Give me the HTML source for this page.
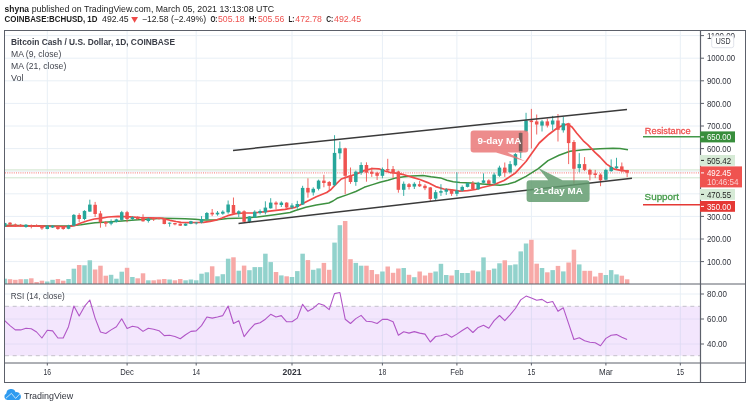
<!DOCTYPE html>
<html><head><meta charset="utf-8"><title>BCHUSD chart</title>
<style>
html,body{margin:0;padding:0;background:#fff;}
body{width:750px;height:408px;overflow:hidden;position:relative;font-family:"Liberation Sans",sans-serif;}
</style></head><body>
<svg width="750" height="408" viewBox="0 0 750 408" style="position:absolute;left:0;top:0;font-family:'Liberation Sans',sans-serif;filter:blur(0.3px)">
<rect width="750" height="408" fill="#fff"/>
<line x1="47.3" y1="31" x2="47.3" y2="363" stroke="#e8eff6" stroke-width="1"/>
<line x1="127.1" y1="31" x2="127.1" y2="363" stroke="#e8eff6" stroke-width="1"/>
<line x1="196.2" y1="31" x2="196.2" y2="363" stroke="#e8eff6" stroke-width="1"/>
<line x1="292.0" y1="31" x2="292.0" y2="363" stroke="#e8eff6" stroke-width="1"/>
<line x1="382.4" y1="31" x2="382.4" y2="363" stroke="#e8eff6" stroke-width="1"/>
<line x1="456.9" y1="31" x2="456.9" y2="363" stroke="#e8eff6" stroke-width="1"/>
<line x1="531.4" y1="31" x2="531.4" y2="363" stroke="#e8eff6" stroke-width="1"/>
<line x1="605.9" y1="31" x2="605.9" y2="363" stroke="#e8eff6" stroke-width="1"/>
<line x1="680.3" y1="31" x2="680.3" y2="363" stroke="#e8eff6" stroke-width="1"/>
<line x1="5" y1="261.6" x2="701" y2="261.6" stroke="#e8eff6" stroke-width="1"/>
<line x1="5" y1="239.0" x2="701" y2="239.0" stroke="#e8eff6" stroke-width="1"/>
<line x1="5" y1="216.4" x2="701" y2="216.4" stroke="#e8eff6" stroke-width="1"/>
<line x1="5" y1="193.8" x2="701" y2="193.8" stroke="#e8eff6" stroke-width="1"/>
<line x1="5" y1="171.2" x2="701" y2="171.2" stroke="#e8eff6" stroke-width="1"/>
<line x1="5" y1="148.6" x2="701" y2="148.6" stroke="#e8eff6" stroke-width="1"/>
<line x1="5" y1="126.0" x2="701" y2="126.0" stroke="#e8eff6" stroke-width="1"/>
<line x1="5" y1="103.4" x2="701" y2="103.4" stroke="#e8eff6" stroke-width="1"/>
<line x1="5" y1="80.8" x2="701" y2="80.8" stroke="#e8eff6" stroke-width="1"/>
<line x1="5" y1="58.2" x2="701" y2="58.2" stroke="#e8eff6" stroke-width="1"/>
<line x1="5" y1="35.6" x2="701" y2="35.6" stroke="#e8eff6" stroke-width="1"/>
<line x1="5" y1="344.0" x2="701" y2="344.0" stroke="#e8eff6" stroke-width="1"/>
<line x1="5" y1="319.0" x2="701" y2="319.0" stroke="#e8eff6" stroke-width="1"/>
<line x1="5" y1="294.0" x2="701" y2="294.0" stroke="#e8eff6" stroke-width="1"/>
<rect x="5" y="306.3" width="696" height="49.4" fill="#f3e6fd"/>
<line x1="5" y1="344.0" x2="701" y2="344.0" stroke="#e4dcf6" stroke-width="1"/>
<line x1="5" y1="319.0" x2="701" y2="319.0" stroke="#e4dcf6" stroke-width="1"/>
<line x1="47.3" y1="306.3" x2="47.3" y2="355.7" stroke="#dfdcf4" stroke-width="1"/>
<line x1="127.1" y1="306.3" x2="127.1" y2="355.7" stroke="#dfdcf4" stroke-width="1"/>
<line x1="196.2" y1="306.3" x2="196.2" y2="355.7" stroke="#dfdcf4" stroke-width="1"/>
<line x1="292.0" y1="306.3" x2="292.0" y2="355.7" stroke="#dfdcf4" stroke-width="1"/>
<line x1="382.4" y1="306.3" x2="382.4" y2="355.7" stroke="#dfdcf4" stroke-width="1"/>
<line x1="456.9" y1="306.3" x2="456.9" y2="355.7" stroke="#dfdcf4" stroke-width="1"/>
<line x1="531.4" y1="306.3" x2="531.4" y2="355.7" stroke="#dfdcf4" stroke-width="1"/>
<line x1="605.9" y1="306.3" x2="605.9" y2="355.7" stroke="#dfdcf4" stroke-width="1"/>
<line x1="680.3" y1="306.3" x2="680.3" y2="355.7" stroke="#dfdcf4" stroke-width="1"/>
<line x1="5" y1="306.3" x2="701" y2="306.3" stroke="#c4c0cb" stroke-width="1" stroke-dasharray="4,3.7"/>
<line x1="5" y1="355.7" x2="701" y2="355.7" stroke="#c4c0cb" stroke-width="1" stroke-dasharray="4,3.7"/>
<rect x="5.00" y="278.7" width="1.95" height="5.3" fill="#92d2cc"/>
<rect x="7.77" y="279.2" width="4.50" height="4.8" fill="#f7a9a7"/>
<rect x="13.09" y="279.8" width="4.50" height="4.2" fill="#f7a9a7"/>
<rect x="18.41" y="279.2" width="4.50" height="4.8" fill="#f7a9a7"/>
<rect x="23.73" y="279.2" width="4.50" height="4.8" fill="#92d2cc"/>
<rect x="29.05" y="278.3" width="4.50" height="5.7" fill="#f7a9a7"/>
<rect x="34.37" y="282.0" width="4.50" height="2.0" fill="#f7a9a7"/>
<rect x="39.69" y="280.7" width="4.50" height="3.3" fill="#f7a9a7"/>
<rect x="45.01" y="281.5" width="4.50" height="2.5" fill="#92d2cc"/>
<rect x="50.33" y="279.8" width="4.50" height="4.2" fill="#92d2cc"/>
<rect x="55.65" y="279.0" width="4.50" height="5.0" fill="#f7a9a7"/>
<rect x="60.97" y="280.7" width="4.50" height="3.3" fill="#f7a9a7"/>
<rect x="66.29" y="279.0" width="4.50" height="5.0" fill="#92d2cc"/>
<rect x="71.61" y="268.7" width="4.50" height="15.3" fill="#92d2cc"/>
<rect x="76.93" y="265.0" width="4.50" height="19.0" fill="#f7a9a7"/>
<rect x="82.25" y="265.3" width="4.50" height="18.7" fill="#92d2cc"/>
<rect x="87.57" y="260.3" width="4.50" height="23.7" fill="#92d2cc"/>
<rect x="92.89" y="269.5" width="4.50" height="14.5" fill="#f7a9a7"/>
<rect x="98.21" y="265.7" width="4.50" height="18.3" fill="#f7a9a7"/>
<rect x="103.53" y="275.7" width="4.50" height="8.3" fill="#f7a9a7"/>
<rect x="108.85" y="274.8" width="4.50" height="9.2" fill="#92d2cc"/>
<rect x="114.17" y="278.7" width="4.50" height="5.3" fill="#92d2cc"/>
<rect x="119.49" y="271.7" width="4.50" height="12.3" fill="#92d2cc"/>
<rect x="124.81" y="267.8" width="4.50" height="16.2" fill="#f7a9a7"/>
<rect x="130.13" y="277.0" width="4.50" height="7.0" fill="#92d2cc"/>
<rect x="135.45" y="278.3" width="4.50" height="5.7" fill="#f7a9a7"/>
<rect x="140.77" y="273.3" width="4.50" height="10.7" fill="#f7a9a7"/>
<rect x="146.09" y="280.3" width="4.50" height="3.7" fill="#92d2cc"/>
<rect x="151.41" y="280.3" width="4.50" height="3.7" fill="#f7a9a7"/>
<rect x="156.73" y="279.5" width="4.50" height="4.5" fill="#f7a9a7"/>
<rect x="162.05" y="279.0" width="4.50" height="5.0" fill="#f7a9a7"/>
<rect x="167.37" y="279.5" width="4.50" height="4.5" fill="#92d2cc"/>
<rect x="172.69" y="280.3" width="4.50" height="3.7" fill="#f7a9a7"/>
<rect x="178.01" y="279.0" width="4.50" height="5.0" fill="#f7a9a7"/>
<rect x="183.33" y="280.3" width="4.50" height="3.7" fill="#92d2cc"/>
<rect x="188.65" y="279.5" width="4.50" height="4.5" fill="#92d2cc"/>
<rect x="193.97" y="280.3" width="4.50" height="3.7" fill="#92d2cc"/>
<rect x="199.29" y="273.7" width="4.50" height="10.3" fill="#92d2cc"/>
<rect x="204.61" y="272.3" width="4.50" height="11.7" fill="#92d2cc"/>
<rect x="209.93" y="266.3" width="4.50" height="17.7" fill="#f7a9a7"/>
<rect x="215.25" y="276.3" width="4.50" height="7.7" fill="#92d2cc"/>
<rect x="220.57" y="274.2" width="4.50" height="9.8" fill="#92d2cc"/>
<rect x="225.89" y="258.7" width="4.50" height="25.3" fill="#92d2cc"/>
<rect x="231.21" y="257.3" width="4.50" height="26.7" fill="#f7a9a7"/>
<rect x="236.53" y="270.7" width="4.50" height="13.3" fill="#92d2cc"/>
<rect x="241.85" y="265.6" width="4.50" height="18.4" fill="#f7a9a7"/>
<rect x="247.17" y="270.2" width="4.50" height="13.8" fill="#92d2cc"/>
<rect x="252.49" y="267.1" width="4.50" height="16.9" fill="#92d2cc"/>
<rect x="257.81" y="267.1" width="4.50" height="16.9" fill="#92d2cc"/>
<rect x="263.13" y="253.7" width="4.50" height="30.3" fill="#92d2cc"/>
<rect x="268.45" y="262.1" width="4.50" height="21.9" fill="#92d2cc"/>
<rect x="273.77" y="272.0" width="4.50" height="12.0" fill="#f7a9a7"/>
<rect x="279.09" y="275.4" width="4.50" height="8.6" fill="#92d2cc"/>
<rect x="284.41" y="276.3" width="4.50" height="7.7" fill="#f7a9a7"/>
<rect x="289.73" y="277.0" width="4.50" height="7.0" fill="#92d2cc"/>
<rect x="295.05" y="271.1" width="4.50" height="12.9" fill="#92d2cc"/>
<rect x="300.37" y="253.7" width="4.50" height="30.3" fill="#92d2cc"/>
<rect x="305.69" y="260.1" width="4.50" height="23.9" fill="#f7a9a7"/>
<rect x="311.01" y="269.8" width="4.50" height="14.2" fill="#92d2cc"/>
<rect x="316.33" y="268.4" width="4.50" height="15.6" fill="#92d2cc"/>
<rect x="321.65" y="262.9" width="4.50" height="21.1" fill="#f7a9a7"/>
<rect x="326.97" y="269.8" width="4.50" height="14.2" fill="#f7a9a7"/>
<rect x="332.29" y="242.6" width="4.50" height="41.4" fill="#92d2cc"/>
<rect x="337.61" y="225.2" width="4.50" height="58.8" fill="#92d2cc"/>
<rect x="342.93" y="221.0" width="4.50" height="63.0" fill="#f7a9a7"/>
<rect x="348.25" y="259.2" width="4.50" height="24.8" fill="#f7a9a7"/>
<rect x="353.57" y="262.9" width="4.50" height="21.1" fill="#92d2cc"/>
<rect x="358.89" y="265.7" width="4.50" height="18.3" fill="#92d2cc"/>
<rect x="364.21" y="265.7" width="4.50" height="18.3" fill="#f7a9a7"/>
<rect x="369.53" y="270.0" width="4.50" height="14.0" fill="#f7a9a7"/>
<rect x="374.85" y="274.2" width="4.50" height="9.8" fill="#f7a9a7"/>
<rect x="380.17" y="271.5" width="4.50" height="12.5" fill="#92d2cc"/>
<rect x="385.49" y="266.5" width="4.50" height="17.5" fill="#f7a9a7"/>
<rect x="390.81" y="272.8" width="4.50" height="11.2" fill="#f7a9a7"/>
<rect x="396.13" y="268.5" width="4.50" height="15.5" fill="#f7a9a7"/>
<rect x="401.45" y="268.0" width="4.50" height="16.0" fill="#92d2cc"/>
<rect x="406.77" y="274.8" width="4.50" height="9.2" fill="#f7a9a7"/>
<rect x="412.09" y="277.2" width="4.50" height="6.8" fill="#92d2cc"/>
<rect x="417.41" y="271.5" width="4.50" height="12.5" fill="#f7a9a7"/>
<rect x="422.73" y="275.5" width="4.50" height="8.5" fill="#f7a9a7"/>
<rect x="428.05" y="272.8" width="4.50" height="11.2" fill="#f7a9a7"/>
<rect x="433.37" y="271.5" width="4.50" height="12.5" fill="#92d2cc"/>
<rect x="438.69" y="263.8" width="4.50" height="20.2" fill="#92d2cc"/>
<rect x="444.01" y="275.0" width="4.50" height="9.0" fill="#92d2cc"/>
<rect x="449.33" y="275.5" width="4.50" height="8.5" fill="#f7a9a7"/>
<rect x="454.65" y="270.0" width="4.50" height="14.0" fill="#92d2cc"/>
<rect x="459.97" y="273.0" width="4.50" height="11.0" fill="#92d2cc"/>
<rect x="465.29" y="273.0" width="4.50" height="11.0" fill="#92d2cc"/>
<rect x="470.61" y="270.5" width="4.50" height="13.5" fill="#f7a9a7"/>
<rect x="475.93" y="271.5" width="4.50" height="12.5" fill="#92d2cc"/>
<rect x="481.25" y="257.4" width="4.50" height="26.6" fill="#92d2cc"/>
<rect x="486.57" y="270.1" width="4.50" height="13.9" fill="#f7a9a7"/>
<rect x="491.89" y="268.6" width="4.50" height="15.4" fill="#92d2cc"/>
<rect x="497.21" y="263.3" width="4.50" height="20.7" fill="#92d2cc"/>
<rect x="502.53" y="260.3" width="4.50" height="23.7" fill="#f7a9a7"/>
<rect x="507.85" y="265.2" width="4.50" height="18.8" fill="#92d2cc"/>
<rect x="513.17" y="264.4" width="4.50" height="19.6" fill="#92d2cc"/>
<rect x="518.49" y="251.4" width="4.50" height="32.6" fill="#92d2cc"/>
<rect x="523.81" y="243.5" width="4.50" height="40.5" fill="#92d2cc"/>
<rect x="529.13" y="239.8" width="4.50" height="44.2" fill="#f7a9a7"/>
<rect x="534.45" y="263.7" width="4.50" height="20.3" fill="#f7a9a7"/>
<rect x="539.77" y="268.0" width="4.50" height="16.0" fill="#92d2cc"/>
<rect x="545.09" y="272.3" width="4.50" height="11.7" fill="#f7a9a7"/>
<rect x="550.41" y="270.1" width="4.50" height="13.9" fill="#92d2cc"/>
<rect x="555.73" y="265.9" width="4.50" height="18.1" fill="#f7a9a7"/>
<rect x="561.05" y="271.4" width="4.50" height="12.6" fill="#92d2cc"/>
<rect x="566.37" y="262.5" width="4.50" height="21.5" fill="#f7a9a7"/>
<rect x="571.69" y="249.7" width="4.50" height="34.3" fill="#f7a9a7"/>
<rect x="577.01" y="264.4" width="4.50" height="19.6" fill="#92d2cc"/>
<rect x="582.33" y="270.8" width="4.50" height="13.2" fill="#f7a9a7"/>
<rect x="587.65" y="270.8" width="4.50" height="13.2" fill="#f7a9a7"/>
<rect x="592.97" y="276.5" width="4.50" height="7.5" fill="#f7a9a7"/>
<rect x="598.29" y="272.9" width="4.50" height="11.1" fill="#f7a9a7"/>
<rect x="603.61" y="275.0" width="4.50" height="9.0" fill="#92d2cc"/>
<rect x="608.93" y="270.1" width="4.50" height="13.9" fill="#92d2cc"/>
<rect x="614.25" y="274.4" width="4.50" height="9.6" fill="#92d2cc"/>
<rect x="619.57" y="275.7" width="4.50" height="8.3" fill="#f7a9a7"/>
<rect x="624.89" y="279.3" width="4.50" height="4.7" fill="#f7a9a7"/>
<line x1="5" y1="169.9" x2="701" y2="169.9" stroke="#cfe5cd" stroke-width="1"/>
<line x1="5" y1="177.8" x2="701" y2="177.8" stroke="#cfe5cd" stroke-width="1"/>
<line x1="5" y1="172.9" x2="701" y2="172.9" stroke="#ef5350" stroke-width="1" stroke-dasharray="1,1.2" opacity="0.8"/>
<polyline points="5.0,225.3 30.0,225.7 55.0,226.0 68.0,226.1 80.9,224.8 87.6,223.7 95.0,222.8 108.0,222.0 122.0,221.0 135.0,220.0 150.0,219.0 162.4,218.3 175.0,218.5 185.0,218.8 195.0,219.2 203.5,220.0 210.0,220.1 217.0,219.8 227.7,218.6 236.0,218.2 244.0,218.1 257.4,217.0 270.9,215.3 280.0,214.0 290.0,212.5 295.4,210.5 305.8,207.3 316.3,205.0 328.8,203.0 333.0,201.0 337.0,198.3 347.5,194.6 355.8,191.5 364.2,187.3 372.5,184.6 380.0,182.2 388.0,180.3 396.0,177.9 403.9,176.8 411.8,176.0 423.0,175.5 431.0,176.8 440.5,177.9 446.9,180.3 453.2,181.8 460.0,182.4 471.0,183.0 482.0,183.9 493.0,184.8 500.0,185.2 508.0,184.0 515.0,182.0 526.0,176.3 538.3,168.6 548.0,160.6 559.0,155.3 570.0,151.3 583.5,149.8 600.0,148.7 613.0,148.2 620.0,148.5 628.0,149.7" fill="none" stroke="#3d9140" stroke-width="1.5" stroke-linejoin="round"/>
<polyline points="5.0,226.1 20.0,226.0 40.0,226.2 60.0,226.5 68.0,226.7 75.5,225.3 80.9,223.0 87.6,220.7 94.3,219.0 100.0,218.3 108.0,217.0 118.0,216.3 130.0,216.8 140.0,217.5 150.0,217.8 160.0,218.0 163.7,218.7 170.0,220.3 176.0,221.5 181.0,222.3 188.0,222.6 195.0,222.5 203.5,222.3 210.0,221.3 217.0,219.8 222.0,218.0 227.7,215.7 235.8,213.7 244.0,213.0 253.0,213.0 265.5,211.7 276.0,210.3 285.0,209.3 290.0,208.3 295.4,207.3 300.0,205.0 305.8,201.9 316.3,196.7 326.7,192.5 331.0,189.5 335.0,185.2 341.3,179.0 347.5,176.9 355.8,174.2 364.2,170.6 372.5,168.5 378.8,168.8 385.0,171.0 389.6,172.3 396.0,173.1 403.9,174.7 411.8,177.1 419.8,179.5 427.8,182.6 435.7,186.6 443.7,189.0 451.7,189.8 459.6,191.1 467.6,190.6 475.5,189.5 482.0,187.5 493.0,185.0 504.0,180.5 515.0,173.3 526.0,161.5 532.0,153.0 539.2,143.0 549.0,134.2 556.9,128.3 563.0,125.3 567.6,124.2 572.0,127.0 576.8,133.2 583.3,140.8 587.9,144.8 595.0,152.4 600.0,157.0 606.6,164.1 613.6,168.8 620.6,170.4 627.6,171.1" fill="none" stroke="#ef4a48" stroke-width="1.7" stroke-linejoin="round"/>
<line x1="4.70" y1="222.5" x2="4.70" y2="227.0" stroke="#26a69a" stroke-width="0.9"/>
<rect x="5.00" y="223.0" width="1.45" height="3.7" fill="#26a69a"/>
<line x1="10.02" y1="222.0" x2="10.02" y2="225.5" stroke="#ef5350" stroke-width="0.9"/>
<rect x="8.27" y="222.7" width="3.50" height="1.9" fill="#ef5350"/>
<line x1="15.34" y1="223.5" x2="15.34" y2="227.0" stroke="#ef5350" stroke-width="0.9"/>
<rect x="13.59" y="224.4" width="3.50" height="2.0" fill="#ef5350"/>
<line x1="20.66" y1="224.0" x2="20.66" y2="227.0" stroke="#ef5350" stroke-width="0.9"/>
<rect x="18.91" y="224.8" width="3.50" height="1.4" fill="#ef5350"/>
<line x1="25.98" y1="224.0" x2="25.98" y2="227.8" stroke="#26a69a" stroke-width="0.9"/>
<rect x="24.23" y="224.8" width="3.50" height="2.2" fill="#26a69a"/>
<line x1="31.30" y1="224.5" x2="31.30" y2="228.4" stroke="#ef5350" stroke-width="0.9"/>
<rect x="29.55" y="225.3" width="3.50" height="1.1" fill="#ef5350"/>
<line x1="36.62" y1="224.3" x2="36.62" y2="227.0" stroke="#ef5350" stroke-width="0.9"/>
<rect x="34.87" y="225.0" width="3.50" height="1.4" fill="#ef5350"/>
<line x1="41.94" y1="225.0" x2="41.94" y2="229.8" stroke="#ef5350" stroke-width="0.9"/>
<rect x="40.19" y="225.7" width="3.50" height="2.7" fill="#ef5350"/>
<line x1="47.26" y1="225.0" x2="47.26" y2="229.3" stroke="#26a69a" stroke-width="0.9"/>
<rect x="45.51" y="225.7" width="3.50" height="3.3" fill="#26a69a"/>
<line x1="52.58" y1="225.0" x2="52.58" y2="228.0" stroke="#26a69a" stroke-width="0.9"/>
<rect x="50.83" y="225.7" width="3.50" height="1.8" fill="#26a69a"/>
<line x1="57.90" y1="225.5" x2="57.90" y2="229.8" stroke="#ef5350" stroke-width="0.9"/>
<rect x="56.15" y="226.1" width="3.50" height="2.9" fill="#ef5350"/>
<line x1="63.22" y1="226.3" x2="63.22" y2="229.8" stroke="#ef5350" stroke-width="0.9"/>
<rect x="61.47" y="227.0" width="3.50" height="2.0" fill="#ef5350"/>
<line x1="68.54" y1="224.8" x2="68.54" y2="229.2" stroke="#26a69a" stroke-width="0.9"/>
<rect x="66.79" y="225.3" width="3.50" height="3.5" fill="#26a69a"/>
<line x1="73.86" y1="214.0" x2="73.86" y2="226.0" stroke="#26a69a" stroke-width="0.9"/>
<rect x="72.11" y="214.9" width="3.50" height="10.8" fill="#26a69a"/>
<line x1="79.18" y1="213.2" x2="79.18" y2="222.3" stroke="#ef5350" stroke-width="0.9"/>
<rect x="77.43" y="215.0" width="3.50" height="4.0" fill="#ef5350"/>
<line x1="84.50" y1="210.2" x2="84.50" y2="220.3" stroke="#26a69a" stroke-width="0.9"/>
<rect x="82.75" y="210.9" width="3.50" height="8.1" fill="#26a69a"/>
<line x1="89.82" y1="199.7" x2="89.82" y2="211.8" stroke="#26a69a" stroke-width="0.9"/>
<rect x="88.07" y="204.6" width="3.50" height="7.0" fill="#26a69a"/>
<line x1="95.14" y1="201.9" x2="95.14" y2="217.0" stroke="#ef5350" stroke-width="0.9"/>
<rect x="93.39" y="204.8" width="3.50" height="9.2" fill="#ef5350"/>
<line x1="100.46" y1="210.9" x2="100.46" y2="227.7" stroke="#ef5350" stroke-width="0.9"/>
<rect x="98.71" y="213.4" width="3.50" height="8.9" fill="#ef5350"/>
<line x1="105.78" y1="221.0" x2="105.78" y2="226.7" stroke="#ef5350" stroke-width="0.9"/>
<rect x="104.03" y="222.0" width="3.50" height="1.7" fill="#ef5350"/>
<line x1="111.10" y1="219.4" x2="111.10" y2="225.3" stroke="#26a69a" stroke-width="0.9"/>
<rect x="109.35" y="221.7" width="3.50" height="2.0" fill="#26a69a"/>
<line x1="116.42" y1="218.8" x2="116.42" y2="222.5" stroke="#26a69a" stroke-width="0.9"/>
<rect x="114.67" y="219.4" width="3.50" height="2.6" fill="#26a69a"/>
<line x1="121.74" y1="210.9" x2="121.74" y2="220.7" stroke="#26a69a" stroke-width="0.9"/>
<rect x="119.99" y="212.2" width="3.50" height="7.7" fill="#26a69a"/>
<line x1="127.06" y1="210.9" x2="127.06" y2="222.3" stroke="#ef5350" stroke-width="0.9"/>
<rect x="125.31" y="212.2" width="3.50" height="6.8" fill="#ef5350"/>
<line x1="132.38" y1="216.3" x2="132.38" y2="220.3" stroke="#26a69a" stroke-width="0.9"/>
<rect x="130.63" y="217.2" width="3.50" height="1.8" fill="#26a69a"/>
<line x1="137.70" y1="216.3" x2="137.70" y2="219.7" stroke="#ef5350" stroke-width="0.9"/>
<rect x="135.95" y="217.4" width="3.50" height="1.6" fill="#ef5350"/>
<line x1="143.02" y1="214.3" x2="143.02" y2="221.7" stroke="#ef5350" stroke-width="0.9"/>
<rect x="141.27" y="218.0" width="3.50" height="3.3" fill="#ef5350"/>
<line x1="148.34" y1="217.6" x2="148.34" y2="222.6" stroke="#26a69a" stroke-width="0.9"/>
<rect x="146.59" y="218.6" width="3.50" height="2.4" fill="#26a69a"/>
<line x1="153.66" y1="217.0" x2="153.66" y2="221.0" stroke="#ef5350" stroke-width="0.9"/>
<rect x="151.91" y="218.0" width="3.50" height="1.4" fill="#ef5350"/>
<line x1="158.98" y1="217.5" x2="158.98" y2="219.6" stroke="#ef5350" stroke-width="0.9"/>
<rect x="157.23" y="218.0" width="3.50" height="1.1" fill="#ef5350"/>
<line x1="164.30" y1="218.2" x2="164.30" y2="224.3" stroke="#ef5350" stroke-width="0.9"/>
<rect x="162.55" y="218.6" width="3.50" height="5.4" fill="#ef5350"/>
<line x1="169.62" y1="222.5" x2="169.62" y2="226.7" stroke="#26a69a" stroke-width="0.9"/>
<rect x="167.87" y="222.7" width="3.50" height="1.0" fill="#26a69a"/>
<line x1="174.94" y1="222.8" x2="174.94" y2="225.3" stroke="#ef5350" stroke-width="0.9"/>
<rect x="173.19" y="223.0" width="3.50" height="1.4" fill="#ef5350"/>
<line x1="180.26" y1="223.4" x2="180.26" y2="226.0" stroke="#ef5350" stroke-width="0.9"/>
<rect x="178.51" y="223.7" width="3.50" height="2.0" fill="#ef5350"/>
<line x1="185.58" y1="223.4" x2="185.58" y2="226.0" stroke="#26a69a" stroke-width="0.9"/>
<rect x="183.83" y="223.7" width="3.50" height="2.0" fill="#26a69a"/>
<line x1="190.90" y1="220.8" x2="190.90" y2="224.2" stroke="#26a69a" stroke-width="0.9"/>
<rect x="189.15" y="221.2" width="3.50" height="2.6" fill="#26a69a"/>
<line x1="196.22" y1="222.0" x2="196.22" y2="224.5" stroke="#26a69a" stroke-width="0.9"/>
<rect x="194.47" y="222.5" width="3.50" height="0.9" fill="#26a69a"/>
<line x1="201.54" y1="216.1" x2="201.54" y2="223.4" stroke="#26a69a" stroke-width="0.9"/>
<rect x="199.79" y="219.1" width="3.50" height="3.4" fill="#26a69a"/>
<line x1="206.86" y1="212.0" x2="206.86" y2="220.2" stroke="#26a69a" stroke-width="0.9"/>
<rect x="205.11" y="213.0" width="3.50" height="6.1" fill="#26a69a"/>
<line x1="212.18" y1="209.0" x2="212.18" y2="216.1" stroke="#ef5350" stroke-width="0.9"/>
<rect x="210.43" y="212.7" width="3.50" height="1.7" fill="#ef5350"/>
<line x1="217.50" y1="211.0" x2="217.50" y2="215.7" stroke="#26a69a" stroke-width="0.9"/>
<rect x="215.75" y="212.7" width="3.50" height="1.7" fill="#26a69a"/>
<line x1="222.82" y1="210.3" x2="222.82" y2="214.8" stroke="#26a69a" stroke-width="0.9"/>
<rect x="221.07" y="211.7" width="3.50" height="2.0" fill="#26a69a"/>
<line x1="228.14" y1="200.5" x2="228.14" y2="213.7" stroke="#26a69a" stroke-width="0.9"/>
<rect x="226.39" y="204.5" width="3.50" height="7.8" fill="#26a69a"/>
<line x1="233.46" y1="197.5" x2="233.46" y2="214.4" stroke="#ef5350" stroke-width="0.9"/>
<rect x="231.71" y="205.0" width="3.50" height="8.7" fill="#ef5350"/>
<line x1="238.78" y1="210.3" x2="238.78" y2="217.0" stroke="#26a69a" stroke-width="0.9"/>
<rect x="237.03" y="211.3" width="3.50" height="2.4" fill="#26a69a"/>
<line x1="244.10" y1="210.3" x2="244.10" y2="222.0" stroke="#ef5350" stroke-width="0.9"/>
<rect x="242.35" y="211.3" width="3.50" height="10.5" fill="#ef5350"/>
<line x1="249.42" y1="216.1" x2="249.42" y2="223.1" stroke="#26a69a" stroke-width="0.9"/>
<rect x="247.67" y="216.4" width="3.50" height="5.4" fill="#26a69a"/>
<line x1="254.74" y1="210.3" x2="254.74" y2="217.7" stroke="#26a69a" stroke-width="0.9"/>
<rect x="252.99" y="211.7" width="3.50" height="5.8" fill="#26a69a"/>
<line x1="260.06" y1="209.4" x2="260.06" y2="214.4" stroke="#26a69a" stroke-width="0.9"/>
<rect x="258.31" y="211.0" width="3.50" height="2.0" fill="#26a69a"/>
<line x1="265.38" y1="201.3" x2="265.38" y2="214.4" stroke="#26a69a" stroke-width="0.9"/>
<rect x="263.63" y="207.6" width="3.50" height="4.7" fill="#26a69a"/>
<line x1="270.70" y1="198.2" x2="270.70" y2="208.6" stroke="#26a69a" stroke-width="0.9"/>
<rect x="268.95" y="202.6" width="3.50" height="5.7" fill="#26a69a"/>
<line x1="276.02" y1="201.3" x2="276.02" y2="209.4" stroke="#ef5350" stroke-width="0.9"/>
<rect x="274.27" y="202.6" width="3.50" height="1.9" fill="#ef5350"/>
<line x1="281.34" y1="201.3" x2="281.34" y2="207.0" stroke="#26a69a" stroke-width="0.9"/>
<rect x="279.59" y="202.6" width="3.50" height="2.4" fill="#26a69a"/>
<line x1="286.66" y1="202.2" x2="286.66" y2="208.0" stroke="#ef5350" stroke-width="0.9"/>
<rect x="284.91" y="202.6" width="3.50" height="4.9" fill="#ef5350"/>
<line x1="291.98" y1="203.3" x2="291.98" y2="209.2" stroke="#26a69a" stroke-width="0.9"/>
<rect x="290.23" y="205.4" width="3.50" height="2.1" fill="#26a69a"/>
<line x1="297.30" y1="200.8" x2="297.30" y2="208.8" stroke="#26a69a" stroke-width="0.9"/>
<rect x="295.55" y="204.0" width="3.50" height="3.0" fill="#26a69a"/>
<line x1="302.62" y1="185.8" x2="302.62" y2="205.0" stroke="#26a69a" stroke-width="0.9"/>
<rect x="300.87" y="187.9" width="3.50" height="16.7" fill="#26a69a"/>
<line x1="307.94" y1="178.3" x2="307.94" y2="197.7" stroke="#ef5350" stroke-width="0.9"/>
<rect x="306.19" y="187.9" width="3.50" height="4.6" fill="#ef5350"/>
<line x1="313.26" y1="187.3" x2="313.26" y2="195.6" stroke="#26a69a" stroke-width="0.9"/>
<rect x="311.51" y="188.8" width="3.50" height="3.7" fill="#26a69a"/>
<line x1="318.58" y1="179.6" x2="318.58" y2="190.4" stroke="#26a69a" stroke-width="0.9"/>
<rect x="316.83" y="180.6" width="3.50" height="8.2" fill="#26a69a"/>
<line x1="323.90" y1="174.8" x2="323.90" y2="187.3" stroke="#ef5350" stroke-width="0.9"/>
<rect x="322.15" y="180.6" width="3.50" height="2.4" fill="#ef5350"/>
<line x1="329.22" y1="181.0" x2="329.22" y2="190.4" stroke="#ef5350" stroke-width="0.9"/>
<rect x="327.47" y="182.0" width="3.50" height="3.8" fill="#ef5350"/>
<line x1="334.54" y1="135.2" x2="334.54" y2="186.2" stroke="#26a69a" stroke-width="0.9"/>
<rect x="332.79" y="152.9" width="3.50" height="32.3" fill="#26a69a"/>
<line x1="339.86" y1="141.5" x2="339.86" y2="159.2" stroke="#26a69a" stroke-width="0.9"/>
<rect x="338.11" y="148.3" width="3.50" height="5.0" fill="#26a69a"/>
<line x1="345.18" y1="147.7" x2="345.18" y2="194.2" stroke="#ef5350" stroke-width="0.9"/>
<rect x="343.43" y="148.3" width="3.50" height="27.5" fill="#ef5350"/>
<line x1="350.50" y1="167.5" x2="350.50" y2="183.8" stroke="#ef5350" stroke-width="0.9"/>
<rect x="348.75" y="175.4" width="3.50" height="6.6" fill="#ef5350"/>
<line x1="355.82" y1="170.6" x2="355.82" y2="185.8" stroke="#26a69a" stroke-width="0.9"/>
<rect x="354.07" y="171.7" width="3.50" height="10.3" fill="#26a69a"/>
<line x1="361.14" y1="162.3" x2="361.14" y2="174.8" stroke="#26a69a" stroke-width="0.9"/>
<rect x="359.39" y="165.0" width="3.50" height="7.7" fill="#26a69a"/>
<line x1="366.46" y1="162.3" x2="366.46" y2="181.7" stroke="#ef5350" stroke-width="0.9"/>
<rect x="364.71" y="165.0" width="3.50" height="7.7" fill="#ef5350"/>
<line x1="371.78" y1="167.5" x2="371.78" y2="176.9" stroke="#ef5350" stroke-width="0.9"/>
<rect x="370.03" y="171.7" width="3.50" height="2.1" fill="#ef5350"/>
<line x1="377.10" y1="171.7" x2="377.10" y2="180.0" stroke="#ef5350" stroke-width="0.9"/>
<rect x="375.35" y="172.7" width="3.50" height="3.1" fill="#ef5350"/>
<line x1="382.42" y1="167.5" x2="382.42" y2="178.3" stroke="#26a69a" stroke-width="0.9"/>
<rect x="380.67" y="169.1" width="3.50" height="6.7" fill="#26a69a"/>
<line x1="387.74" y1="158.8" x2="387.74" y2="171.5" stroke="#ef5350" stroke-width="0.9"/>
<rect x="385.99" y="169.1" width="3.50" height="1.3" fill="#ef5350"/>
<line x1="393.06" y1="166.0" x2="393.06" y2="177.9" stroke="#ef5350" stroke-width="0.9"/>
<rect x="391.31" y="169.1" width="3.50" height="4.0" fill="#ef5350"/>
<line x1="398.38" y1="170.7" x2="398.38" y2="192.7" stroke="#ef5350" stroke-width="0.9"/>
<rect x="396.63" y="171.5" width="3.50" height="18.3" fill="#ef5350"/>
<line x1="403.70" y1="181.5" x2="403.70" y2="195.9" stroke="#26a69a" stroke-width="0.9"/>
<rect x="401.95" y="183.8" width="3.50" height="6.0" fill="#26a69a"/>
<line x1="409.02" y1="183.0" x2="409.02" y2="189.5" stroke="#ef5350" stroke-width="0.9"/>
<rect x="407.27" y="184.2" width="3.50" height="2.8" fill="#ef5350"/>
<line x1="414.34" y1="182.2" x2="414.34" y2="189.0" stroke="#26a69a" stroke-width="0.9"/>
<rect x="412.59" y="183.8" width="3.50" height="2.8" fill="#26a69a"/>
<line x1="419.66" y1="181.0" x2="419.66" y2="187.0" stroke="#ef5350" stroke-width="0.9"/>
<rect x="417.91" y="184.2" width="3.50" height="2.1" fill="#ef5350"/>
<line x1="424.98" y1="184.2" x2="424.98" y2="190.1" stroke="#ef5350" stroke-width="0.9"/>
<rect x="423.23" y="185.8" width="3.50" height="2.4" fill="#ef5350"/>
<line x1="430.30" y1="187.0" x2="430.30" y2="201.0" stroke="#ef5350" stroke-width="0.9"/>
<rect x="428.55" y="187.4" width="3.50" height="11.6" fill="#ef5350"/>
<line x1="435.62" y1="190.1" x2="435.62" y2="200.2" stroke="#26a69a" stroke-width="0.9"/>
<rect x="433.87" y="192.2" width="3.50" height="6.4" fill="#26a69a"/>
<line x1="440.94" y1="184.2" x2="440.94" y2="195.9" stroke="#26a69a" stroke-width="0.9"/>
<rect x="439.19" y="191.1" width="3.50" height="1.6" fill="#26a69a"/>
<line x1="446.26" y1="188.2" x2="446.26" y2="194.9" stroke="#26a69a" stroke-width="0.9"/>
<rect x="444.51" y="189.5" width="3.50" height="2.2" fill="#26a69a"/>
<line x1="451.58" y1="189.5" x2="451.58" y2="195.9" stroke="#ef5350" stroke-width="0.9"/>
<rect x="449.83" y="190.1" width="3.50" height="3.7" fill="#ef5350"/>
<line x1="456.90" y1="172.3" x2="456.90" y2="196.2" stroke="#26a69a" stroke-width="0.9"/>
<rect x="455.15" y="190.6" width="3.50" height="3.2" fill="#26a69a"/>
<line x1="462.22" y1="185.4" x2="462.22" y2="191.4" stroke="#26a69a" stroke-width="0.9"/>
<rect x="460.47" y="186.9" width="3.50" height="3.7" fill="#26a69a"/>
<line x1="467.54" y1="182.6" x2="467.54" y2="187.4" stroke="#26a69a" stroke-width="0.9"/>
<rect x="465.79" y="183.1" width="3.50" height="3.8" fill="#26a69a"/>
<line x1="472.86" y1="181.0" x2="472.86" y2="189.8" stroke="#ef5350" stroke-width="0.9"/>
<rect x="471.11" y="183.1" width="3.50" height="5.9" fill="#ef5350"/>
<line x1="478.18" y1="181.8" x2="478.18" y2="189.8" stroke="#26a69a" stroke-width="0.9"/>
<rect x="476.43" y="182.7" width="3.50" height="6.6" fill="#26a69a"/>
<line x1="483.50" y1="173.4" x2="483.50" y2="183.4" stroke="#26a69a" stroke-width="0.9"/>
<rect x="481.75" y="180.4" width="3.50" height="2.4" fill="#26a69a"/>
<line x1="488.82" y1="179.3" x2="488.82" y2="184.4" stroke="#ef5350" stroke-width="0.9"/>
<rect x="487.07" y="180.4" width="3.50" height="3.5" fill="#ef5350"/>
<line x1="494.14" y1="172.7" x2="494.14" y2="184.4" stroke="#26a69a" stroke-width="0.9"/>
<rect x="492.39" y="174.6" width="3.50" height="8.8" fill="#26a69a"/>
<line x1="499.46" y1="165.7" x2="499.46" y2="176.9" stroke="#26a69a" stroke-width="0.9"/>
<rect x="497.71" y="167.6" width="3.50" height="8.2" fill="#26a69a"/>
<line x1="504.78" y1="162.5" x2="504.78" y2="176.9" stroke="#ef5350" stroke-width="0.9"/>
<rect x="503.03" y="167.6" width="3.50" height="5.1" fill="#ef5350"/>
<line x1="510.10" y1="161.1" x2="510.10" y2="173.4" stroke="#26a69a" stroke-width="0.9"/>
<rect x="508.35" y="164.1" width="3.50" height="8.2" fill="#26a69a"/>
<line x1="515.42" y1="153.1" x2="515.42" y2="166.4" stroke="#26a69a" stroke-width="0.9"/>
<rect x="513.67" y="154.1" width="3.50" height="11.2" fill="#26a69a"/>
<line x1="520.74" y1="131.5" x2="520.74" y2="158.3" stroke="#26a69a" stroke-width="0.9"/>
<rect x="518.99" y="132.6" width="3.50" height="19.8" fill="#26a69a"/>
<line x1="526.06" y1="112.8" x2="526.06" y2="132.0" stroke="#26a69a" stroke-width="0.9"/>
<rect x="524.31" y="120.5" width="3.50" height="11.0" fill="#26a69a"/>
<line x1="531.38" y1="108.9" x2="531.38" y2="148.5" stroke="#ef5350" stroke-width="0.9"/>
<rect x="529.63" y="120.5" width="3.50" height="1.6" fill="#ef5350"/>
<line x1="536.70" y1="114.5" x2="536.70" y2="134.5" stroke="#ef5350" stroke-width="0.9"/>
<rect x="534.95" y="121.4" width="3.50" height="3.1" fill="#ef5350"/>
<line x1="542.02" y1="119.8" x2="542.02" y2="131.5" stroke="#26a69a" stroke-width="0.9"/>
<rect x="540.27" y="121.4" width="3.50" height="4.2" fill="#26a69a"/>
<line x1="547.34" y1="118.6" x2="547.34" y2="127.5" stroke="#ef5350" stroke-width="0.9"/>
<rect x="545.59" y="121.4" width="3.50" height="4.2" fill="#ef5350"/>
<line x1="552.66" y1="115.9" x2="552.66" y2="130.3" stroke="#26a69a" stroke-width="0.9"/>
<rect x="550.91" y="120.5" width="3.50" height="4.0" fill="#26a69a"/>
<line x1="557.98" y1="114.0" x2="557.98" y2="141.5" stroke="#ef5350" stroke-width="0.9"/>
<rect x="556.23" y="120.5" width="3.50" height="9.3" fill="#ef5350"/>
<line x1="563.30" y1="116.8" x2="563.30" y2="132.6" stroke="#26a69a" stroke-width="0.9"/>
<rect x="561.55" y="123.3" width="3.50" height="7.0" fill="#26a69a"/>
<line x1="568.62" y1="122.8" x2="568.62" y2="164.1" stroke="#ef5350" stroke-width="0.9"/>
<rect x="566.87" y="123.3" width="3.50" height="19.8" fill="#ef5350"/>
<line x1="573.94" y1="140.1" x2="573.94" y2="183.9" stroke="#ef5350" stroke-width="0.9"/>
<rect x="572.19" y="142.0" width="3.50" height="26.8" fill="#ef5350"/>
<line x1="579.26" y1="153.1" x2="579.26" y2="172.3" stroke="#26a69a" stroke-width="0.9"/>
<rect x="577.51" y="164.1" width="3.50" height="4.0" fill="#26a69a"/>
<line x1="584.58" y1="157.1" x2="584.58" y2="171.1" stroke="#ef5350" stroke-width="0.9"/>
<rect x="582.83" y="164.1" width="3.50" height="5.8" fill="#ef5350"/>
<line x1="589.90" y1="168.8" x2="589.90" y2="180.4" stroke="#ef5350" stroke-width="0.9"/>
<rect x="588.15" y="169.9" width="3.50" height="4.7" fill="#ef5350"/>
<line x1="595.22" y1="169.9" x2="595.22" y2="178.1" stroke="#ef5350" stroke-width="0.9"/>
<rect x="593.47" y="173.4" width="3.50" height="1.6" fill="#ef5350"/>
<line x1="600.54" y1="173.4" x2="600.54" y2="186.2" stroke="#ef5350" stroke-width="0.9"/>
<rect x="598.79" y="174.6" width="3.50" height="5.8" fill="#ef5350"/>
<line x1="605.86" y1="168.8" x2="605.86" y2="180.4" stroke="#26a69a" stroke-width="0.9"/>
<rect x="604.11" y="169.9" width="3.50" height="9.8" fill="#26a69a"/>
<line x1="611.18" y1="159.4" x2="611.18" y2="171.8" stroke="#26a69a" stroke-width="0.9"/>
<rect x="609.43" y="167.1" width="3.50" height="4.0" fill="#26a69a"/>
<line x1="616.50" y1="157.8" x2="616.50" y2="168.8" stroke="#26a69a" stroke-width="0.9"/>
<rect x="614.75" y="166.4" width="3.50" height="1.7" fill="#26a69a"/>
<line x1="621.82" y1="162.5" x2="621.82" y2="172.3" stroke="#ef5350" stroke-width="0.9"/>
<rect x="620.07" y="166.4" width="3.50" height="4.7" fill="#ef5350"/>
<line x1="627.14" y1="169.9" x2="627.14" y2="177.3" stroke="#ef5350" stroke-width="0.9"/>
<rect x="625.39" y="170.0" width="3.50" height="2.8" fill="#ef5350"/>
<line x1="233" y1="150.4" x2="627" y2="109.6" stroke="#3a3a3a" stroke-width="1.5"/>
<line x1="238.5" y1="223.4" x2="632" y2="178.2" stroke="#3a3a3a" stroke-width="1.5"/>
<path d="M473.6,130.6 H525.3 a3,3 0 0 1 3,3 V149.4 a3,3 0 0 1 -3,3 H507.5 L525.7,161.4 L496,152.4 H473.6 a3,3 0 0 1 -3,-3 V133.6 a3,3 0 0 1 3,-3 Z" fill="#e86f6f" fill-opacity="0.8"/>
<rect x="518.8" y="133" width="3.6" height="18" fill="#5e5550" fill-opacity="0.75"/>
<text x="477.6" y="143.9" font-size="8.6" font-weight="bold" fill="#fff" textLength="43.7" lengthAdjust="spacingAndGlyphs">9-day MA</text>
<path d="M529.6,180.2 H548.2 L538.3,168.1 L562.5,180.2 H586.6 a3,3 0 0 1 3,3 V199 a3,3 0 0 1 -3,3 H529.6 a3,3 0 0 1 -3,-3 V183.2 a3,3 0 0 1 3,-3 Z" fill="#639c70" fill-opacity="0.85"/>
<text x="533.4" y="194.4" font-size="8.6" font-weight="bold" fill="#fff" textLength="49.4" lengthAdjust="spacingAndGlyphs">21-day MA</text>
<line x1="643" y1="136.8" x2="701" y2="136.8" stroke="#43984a" stroke-width="1.5"/>
<text x="644.8" y="134.1" font-size="9.5" fill="#ee4f4d" stroke="#ee4f4d" stroke-width="0.3" textLength="45.8" lengthAdjust="spacingAndGlyphs">Resistance</text>
<line x1="643" y1="204.8" x2="701" y2="204.8" stroke="#e53935" stroke-width="1.4"/>
<text x="644.6" y="200.4" font-size="9.9" fill="#449a48" stroke="#449a48" stroke-width="0.3" textLength="34.5" lengthAdjust="spacingAndGlyphs">Support</text>
<polyline points="4.7,320.7 10.0,325.6 15.3,329.9 20.7,329.9 26.0,328.2 31.3,328.8 36.6,332.0 41.9,338.0 47.3,330.3 52.6,330.9 57.9,338.0 63.2,338.0 68.5,326.7 73.9,306.0 79.2,316.0 84.5,306.4 89.8,300.0 95.1,318.1 100.5,332.0 105.8,333.5 111.1,329.9 116.4,326.7 121.7,318.8 127.1,328.4 132.4,326.2 137.7,327.3 143.0,331.4 148.3,328.2 153.7,329.2 159.0,330.7 164.3,335.6 169.6,335.2 174.9,336.5 180.3,338.8 185.6,334.8 190.9,331.4 196.2,330.9 201.5,325.6 206.9,317.0 212.2,318.1 217.5,317.0 222.8,315.6 228.1,306.0 233.5,323.5 238.8,320.7 244.1,336.7 249.4,329.9 254.7,324.1 260.1,322.8 265.4,319.2 270.7,314.3 276.0,317.0 281.3,315.6 286.7,321.8 292.0,321.8 297.3,318.1 302.6,304.3 307.9,311.3 313.3,308.2 318.6,303.6 323.9,305.3 329.2,309.6 334.5,293.6 339.9,292.5 345.2,319.2 350.5,323.5 355.8,318.6 361.1,315.4 366.5,321.3 371.8,321.8 377.1,323.5 382.4,319.4 387.7,319.4 393.1,321.8 398.4,335.2 403.7,331.8 409.0,333.1 414.3,331.6 419.7,333.1 425.0,334.1 430.3,342.0 435.6,336.5 440.9,335.8 446.3,333.9 451.6,337.3 456.9,334.1 462.2,330.5 467.5,327.3 472.9,332.5 478.2,327.4 483.5,325.3 488.8,328.3 494.1,320.6 499.5,315.5 504.8,320.6 510.1,314.8 515.4,308.5 520.7,299.9 526.1,296.1 531.4,298.0 536.7,300.3 542.0,299.4 547.3,302.7 552.7,301.5 558.0,311.3 563.3,307.8 568.6,323.7 573.9,339.5 579.3,337.7 584.6,340.7 589.9,342.3 595.2,342.8 600.5,345.8 605.9,338.4 611.2,335.3 616.5,334.6 621.8,337.2 627.1,339.5" fill="none" stroke="#b156c7" stroke-width="1.1" stroke-linejoin="round"/>
<rect x="4.5" y="30.5" width="741" height="352" fill="none" stroke="#5c606a" stroke-width="1"/>
<line x1="700.5" y1="30.5" x2="700.5" y2="382.5" stroke="#5c606a" stroke-width="1.2"/>
<line x1="4.5" y1="284" x2="745.5" y2="284" stroke="#5c606a" stroke-width="1"/>
<line x1="4.5" y1="363" x2="745.5" y2="363" stroke="#5c606a" stroke-width="1"/>
<line x1="47.3" y1="363" x2="47.3" y2="365.5" stroke="#5c606a" stroke-width="1"/>
<line x1="127.1" y1="363" x2="127.1" y2="365.5" stroke="#5c606a" stroke-width="1"/>
<line x1="196.2" y1="363" x2="196.2" y2="365.5" stroke="#5c606a" stroke-width="1"/>
<line x1="292.0" y1="363" x2="292.0" y2="365.5" stroke="#5c606a" stroke-width="1"/>
<line x1="382.4" y1="363" x2="382.4" y2="365.5" stroke="#5c606a" stroke-width="1"/>
<line x1="456.9" y1="363" x2="456.9" y2="365.5" stroke="#5c606a" stroke-width="1"/>
<line x1="531.4" y1="363" x2="531.4" y2="365.5" stroke="#5c606a" stroke-width="1"/>
<line x1="605.9" y1="363" x2="605.9" y2="365.5" stroke="#5c606a" stroke-width="1"/>
<line x1="680.3" y1="363" x2="680.3" y2="365.5" stroke="#5c606a" stroke-width="1"/>
<line x1="701" y1="35.6" x2="704" y2="35.6" stroke="#5c606a" stroke-width="1"/>
<text x="707" y="38.7" font-size="8.6" fill="#30333c" textLength="28.0" lengthAdjust="spacingAndGlyphs">1100.00</text>
<line x1="701" y1="58.2" x2="704" y2="58.2" stroke="#5c606a" stroke-width="1"/>
<text x="707" y="61.3" font-size="8.6" fill="#30333c" textLength="28.0" lengthAdjust="spacingAndGlyphs">1000.00</text>
<line x1="701" y1="80.8" x2="704" y2="80.8" stroke="#5c606a" stroke-width="1"/>
<text x="707" y="83.9" font-size="8.6" fill="#30333c" textLength="24.0" lengthAdjust="spacingAndGlyphs">900.00</text>
<line x1="701" y1="103.4" x2="704" y2="103.4" stroke="#5c606a" stroke-width="1"/>
<text x="707" y="106.5" font-size="8.6" fill="#30333c" textLength="24.0" lengthAdjust="spacingAndGlyphs">800.00</text>
<line x1="701" y1="126.0" x2="704" y2="126.0" stroke="#5c606a" stroke-width="1"/>
<text x="707" y="129.1" font-size="8.6" fill="#30333c" textLength="24.0" lengthAdjust="spacingAndGlyphs">700.00</text>
<line x1="701" y1="148.6" x2="704" y2="148.6" stroke="#5c606a" stroke-width="1"/>
<text x="707" y="151.7" font-size="8.6" fill="#30333c" textLength="24.0" lengthAdjust="spacingAndGlyphs">600.00</text>
<line x1="701" y1="216.4" x2="704" y2="216.4" stroke="#5c606a" stroke-width="1"/>
<text x="707" y="219.5" font-size="8.6" fill="#30333c" textLength="24.0" lengthAdjust="spacingAndGlyphs">300.00</text>
<line x1="701" y1="239.0" x2="704" y2="239.0" stroke="#5c606a" stroke-width="1"/>
<text x="707" y="242.1" font-size="8.6" fill="#30333c" textLength="24.0" lengthAdjust="spacingAndGlyphs">200.00</text>
<line x1="701" y1="261.6" x2="704" y2="261.6" stroke="#5c606a" stroke-width="1"/>
<text x="707" y="264.7" font-size="8.6" fill="#30333c" textLength="24.0" lengthAdjust="spacingAndGlyphs">100.00</text>
<line x1="701" y1="294.0" x2="704" y2="294.0" stroke="#5c606a" stroke-width="1"/>
<text x="707" y="297.1" font-size="8.6" fill="#30333c" textLength="20.0" lengthAdjust="spacingAndGlyphs">80.00</text>
<line x1="701" y1="319.0" x2="704" y2="319.0" stroke="#5c606a" stroke-width="1"/>
<text x="707" y="322.1" font-size="8.6" fill="#30333c" textLength="20.0" lengthAdjust="spacingAndGlyphs">60.00</text>
<line x1="701" y1="344.0" x2="704" y2="344.0" stroke="#5c606a" stroke-width="1"/>
<text x="707" y="347.1" font-size="8.6" fill="#30333c" textLength="20.0" lengthAdjust="spacingAndGlyphs">40.00</text>
<rect x="711.7" y="35.9" width="22" height="11.8" rx="2" fill="#fff" stroke="#e0e3eb" stroke-width="1"/>
<text x="715.8" y="44.1" font-size="8.2" fill="#30333c" textLength="14.8" lengthAdjust="spacingAndGlyphs">USD</text>
<rect x="700" y="131.4" width="35.0" height="11.0" fill="#388e3c"/>
<line x1="701" y1="136.9" x2="704" y2="136.9" stroke="#fff" stroke-width="1"/>
<text x="707" y="140.0" font-size="8.6" fill="#fff" textLength="24" lengthAdjust="spacingAndGlyphs">650.00</text>
<rect x="700" y="155.0" width="35.0" height="10.8" fill="#d6ead6"/>
<line x1="701" y1="160.4" x2="704" y2="160.4" stroke="#222" stroke-width="1"/>
<text x="707" y="163.5" font-size="8.6" fill="#222" textLength="24" lengthAdjust="spacingAndGlyphs">505.42</text>
<rect x="700" y="189.0" width="35.0" height="10.8" fill="#d6ead6"/>
<line x1="701" y1="194.4" x2="704" y2="194.4" stroke="#222" stroke-width="1"/>
<text x="707" y="197.5" font-size="8.6" fill="#222" textLength="24" lengthAdjust="spacingAndGlyphs">470.55</text>
<rect x="700" y="201.0" width="35.0" height="10.8" fill="#e53935"/>
<line x1="701" y1="206.4" x2="704" y2="206.4" stroke="#fff" stroke-width="1"/>
<text x="707" y="209.5" font-size="8.6" fill="#fff" textLength="24" lengthAdjust="spacingAndGlyphs">350.00</text>
<rect x="700" y="166.4" width="42" height="21" fill="#ef5350"/>
<line x1="701" y1="172.9" x2="704" y2="172.9" stroke="#fff" stroke-width="1"/>
<text x="707" y="175.6" font-size="8.6" fill="#fff" textLength="24" lengthAdjust="spacingAndGlyphs">492.45</text>
<text x="707" y="185" font-size="8.6" fill="#fbd0cf" textLength="31.5" lengthAdjust="spacingAndGlyphs">10:46:54</text>
<text x="43.5" y="375.4" font-size="8.6" fill="#30333c" textLength="7.6" lengthAdjust="spacingAndGlyphs">16</text>
<text x="120.3" y="375.4" font-size="8.6" fill="#30333c" textLength="13.6" lengthAdjust="spacingAndGlyphs">Dec</text>
<text x="192.4" y="375.4" font-size="8.6" fill="#30333c" textLength="7.6" lengthAdjust="spacingAndGlyphs">14</text>
<text x="282.5" y="375.4" font-size="8.6" fill="#30333c" font-weight="bold" textLength="19" lengthAdjust="spacingAndGlyphs">2021</text>
<text x="378.6" y="375.4" font-size="8.6" fill="#30333c" textLength="7.6" lengthAdjust="spacingAndGlyphs">18</text>
<text x="450.2" y="375.4" font-size="8.6" fill="#30333c" textLength="13.4" lengthAdjust="spacingAndGlyphs">Feb</text>
<text x="527.6" y="375.4" font-size="8.6" fill="#30333c" textLength="7.6" lengthAdjust="spacingAndGlyphs">15</text>
<text x="599.0" y="375.4" font-size="8.6" fill="#30333c" textLength="13.8" lengthAdjust="spacingAndGlyphs">Mar</text>
<text x="676.5" y="375.4" font-size="8.6" fill="#30333c" textLength="7.6" lengthAdjust="spacingAndGlyphs">15</text>
<text x="11" y="45.3" font-size="8.6" font-weight="bold" fill="#393c46" textLength="164" lengthAdjust="spacingAndGlyphs">Bitcoin Cash / U.S. Dollar, 1D, COINBASE</text>
<text x="11" y="57" font-size="8.6" fill="#43464f" textLength="50.3" lengthAdjust="spacingAndGlyphs">MA (9, close)</text>
<text x="11" y="68.8" font-size="8.6" fill="#43464f" textLength="55.3" lengthAdjust="spacingAndGlyphs">MA (21, close)</text>
<text x="11" y="80.6" font-size="8.6" fill="#43464f" textLength="12.5" lengthAdjust="spacingAndGlyphs">Vol</text>
<text x="10.7" y="299" font-size="8.6" fill="#43464f" textLength="54" lengthAdjust="spacingAndGlyphs">RSI (14, close)</text>
<text x="4.6" y="11.9" font-size="8.8" fill="#1c1c1c" font-weight="bold" textLength="24.5" lengthAdjust="spacingAndGlyphs">shyna</text>
<text x="31.7" y="11.9" font-size="8.8" fill="#1c1c1c" textLength="242.5" lengthAdjust="spacingAndGlyphs">published on TradingView.com, March 05, 2021 13:13:08 UTC</text>
<text x="4.6" y="22.3" font-size="8.8" fill="#1c1c1c" font-weight="bold" textLength="92.9" lengthAdjust="spacingAndGlyphs">COINBASE:BCHUSD, 1D</text>
<text x="102.1" y="22.3" font-size="8.8" fill="#1c1c1c" textLength="26.6" lengthAdjust="spacingAndGlyphs">492.45</text>
<path d="M131.2,17 L138,17 L134.6,22.8 Z" fill="#ef4a48"/>
<text x="141.9" y="22.3" font-size="8.8" fill="#1c1c1c" textLength="64.2" lengthAdjust="spacingAndGlyphs">−12.58 (−2.49%)</text>
<text x="210.4" y="22.3" font-size="8.8" fill="#1c1c1c" font-weight="bold" textLength="7.1" lengthAdjust="spacingAndGlyphs">O:</text>
<text x="218.0" y="22.3" font-size="8.8" fill="#ef5350" textLength="26.6" lengthAdjust="spacingAndGlyphs">505.18</text>
<text x="248.9" y="22.3" font-size="8.8" fill="#1c1c1c" font-weight="bold" textLength="8.0" lengthAdjust="spacingAndGlyphs">H:</text>
<text x="258.0" y="22.3" font-size="8.8" fill="#ef5350" textLength="26.4" lengthAdjust="spacingAndGlyphs">505.56</text>
<text x="288.4" y="22.3" font-size="8.8" fill="#1c1c1c" font-weight="bold" textLength="6.1" lengthAdjust="spacingAndGlyphs">L:</text>
<text x="295.3" y="22.3" font-size="8.8" fill="#ef5350" textLength="26.6" lengthAdjust="spacingAndGlyphs">472.78</text>
<text x="326.2" y="22.3" font-size="8.8" fill="#1c1c1c" font-weight="bold" textLength="7.1" lengthAdjust="spacingAndGlyphs">C:</text>
<text x="334.0" y="22.3" font-size="8.8" fill="#ef5350" textLength="27.1" lengthAdjust="spacingAndGlyphs">492.45</text>
<path d="M7.4,400.1 A3.5,3.5 0 0 1 6.3,393.5 A4.8,4.8 0 0 1 15.6,392.2 A4.4,4.4 0 0 1 19,400.1 Z" fill="#2e9bf0"/>
<polyline points="5.8,398.3 11.4,393.4 15.6,398.4 19.8,393.9" fill="none" stroke="#fff" stroke-width="0.7" stroke-linejoin="round"/>
<text x="24" y="398.5" font-size="9.6" fill="#30333c" textLength="49.2" lengthAdjust="spacingAndGlyphs">TradingView</text>
</svg>
</body></html>
